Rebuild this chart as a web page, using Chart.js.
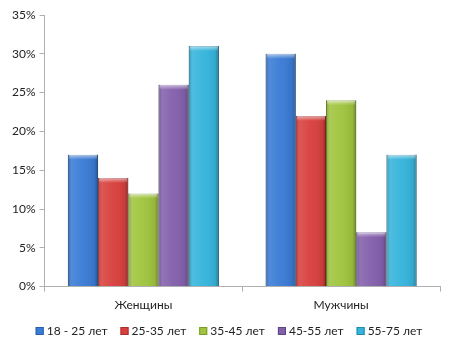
<!DOCTYPE html>
<html>
<head>
<meta charset="utf-8">
<script src="https://cdn.jsdelivr.net/npm/chart.js@4.4.0/dist/chart.umd.min.js"></script>
<style>
  html, body { margin: 0; padding: 0; background: #fff; }
  #wrap { width: 454px; height: 351px; }
</style>
</head>
<body>
<div id="wrap"><canvas id="myChart" width="454" height="351"></canvas></div>
<script>
// данные
const categories = ['Женщины', 'Мужчины'];
const seriesNames = ['18 - 25 лет', '25-35 лет', '35-45 лет', '45-55 лет', '55-75 лет'];
const age18_25 = [17, 30];
const age25_35 = [14, 22];
const age35_45 = [12, 24];
const age45_55 = [26, 7];
const age55_75 = [31, 17];
const yTicks = [0, 5, 10, 15, 20, 25, 30, 35];

const colors = ['#3a7bd5', '#d8403d', '#a0c43e', '#8360ac', '#35b4dc'];
const edges = ['#2a5fa8', '#a82e2c', '#7a9a2a', '#5f4482', '#2688a8'];
const values = [age18_25, age25_35, age35_45, age45_55, age55_75];

const font = { family: 'Lato', size: 12 };

// объёмная заливка столбиков (как в Excel)
const bevel = {
  id: 'bevel',
  afterDatasetsDraw(chart) {
    const c = chart.ctx;
    chart.data.datasets.forEach((ds, i) => {
      chart.getDatasetMeta(i).data.forEach(bar => {
        const x0 = bar.x - bar.width / 2, w = bar.width;
        const top = bar.y, h = bar.base - bar.y;
        const g = c.createLinearGradient(x0, 0, x0 + w, 0);
        g.addColorStop(0, 'rgba(0,0,0,0.25)');
        g.addColorStop(0.12, 'rgba(255,255,255,0.12)');
        g.addColorStop(0.5, 'rgba(255,255,255,0.03)');
        g.addColorStop(0.88, 'rgba(0,0,0,0.07)');
        g.addColorStop(1, 'rgba(0,0,0,0.32)');
        c.save();
        c.fillStyle = g;
        c.fillRect(x0, top, w, h);
        const t = c.createLinearGradient(0, top, 0, top + 5);
        t.addColorStop(0, 'rgba(255,255,255,0.55)');
        t.addColorStop(1, 'rgba(255,255,255,0)');
        c.fillStyle = t;
        c.fillRect(x0 + 1, top, w - 2, 5);
        c.restore();
      });
    });
  }
};

// легенда в одну строку внизу
const bottomLegend = {
  id: 'bottomLegend',
  afterDraw(chart) {
    const c = chart.ctx;
    const box = 8, gap = 3, space = 13, y = 331;
    c.save();
    c.font = font.size + 'px ' + font.family;
    c.textBaseline = 'middle';
    const ds = chart.data.datasets;
    const widths = ds.map(d => box + gap + c.measureText(d.label).width);
    const total = widths.reduce((a, b) => a + b, 0) + space * (ds.length - 1);
    let x = 229 - total / 2;
    ds.forEach((d, i) => {
      c.fillStyle = d.backgroundColor;
      c.fillRect(x, y - box / 2, box, box);
      c.strokeStyle = d.borderColor;
      c.lineWidth = 1;
      c.strokeRect(x + 0.5, y - box / 2 + 0.5, box - 1, box - 1);
      c.fillStyle = '#222';
      c.fillText(d.label, x + box + gap, y);
      x += widths[i] + space;
    });
    c.restore();
  }
};

const ctx = document.getElementById('myChart').getContext('2d');
const chart = new Chart(ctx, {
  type: 'bar',
  data: {
    labels: categories,
    datasets: seriesNames.map((name, i) => ({
      label: name,
      data: values[i],
      backgroundColor: colors[i],
      borderColor: edges[i],
      borderWidth: 1,
      categoryPercentage: 0.764,
      barPercentage: 1
    }))
  },
  options: {
    responsive: false,
    animation: false,
    devicePixelRatio: 1,
    layout: { padding: { left: 8, right: 14, top: 15, bottom: 33 } },
    plugins: {
      tooltip: { enabled: false },
      legend: { display: false }
    },
    scales: {
      x: {
        grid: { drawOnChartArea: false, drawTicks: true, tickLength: 5, color: '#b0b0b0' },
        border: { color: '#b0b0b0' },
        ticks: { color: '#222', font: font, padding: 6 }
      },
      y: {
        min: 0, max: 35,
        afterBuildTicks(axis) { axis.ticks = yTicks.map(v => ({ value: v })); },
        grid: { drawOnChartArea: false, drawTicks: true, tickLength: 5, color: '#b0b0b0' },
        border: { color: '#b0b0b0' },
        ticks: { color: '#222', font: font, padding: 4,
          callback: v => v + '%' }
      }
    }
  },
  plugins: [bevel, bottomLegend]
});
</script>
</body>
</html>
